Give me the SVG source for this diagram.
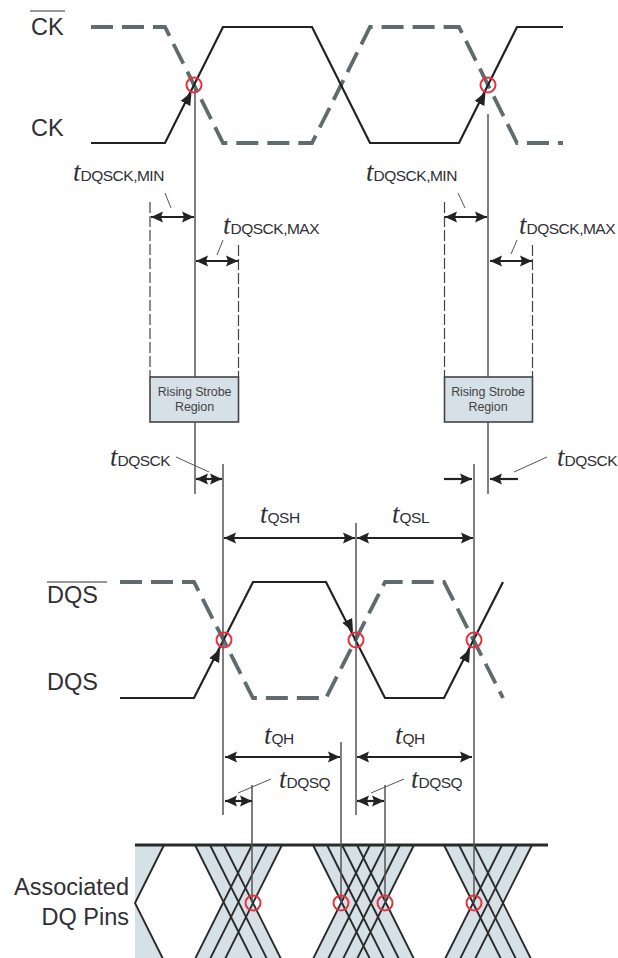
<svg xmlns="http://www.w3.org/2000/svg" width="618" height="958" viewBox="0 0 618 958">
<style>
text{font-family:"Liberation Sans",Arial,sans-serif;fill:#2f3036}
.sig{font-size:23.500px}
.t{font-family:"Liberation Serif","Times New Roman",serif;font-style:italic;font-size:27px}
.s{font-size:15.500px;letter-spacing:-.5px}
.box{fill:#d6e0e7;stroke:#444;stroke-width:1.600}
.boxt{font-size:12.500px;text-anchor:middle;fill:#444;letter-spacing:-.1px}
.solid{fill:none;stroke:#222;stroke-width:2.200}
.dash{fill:none;stroke:#5f6b6e;stroke-width:3.800;stroke-dasharray:22 9}
.v{stroke:#555;stroke-width:1.500;fill:none}
.vd{stroke:#444;stroke-width:1.200;stroke-dasharray:11 3;fill:none}
.leader{stroke:#555;stroke-width:1;fill:none}
.dim{stroke:#222;stroke-width:2.200;fill:none;marker-start:url(#ah);marker-end:url(#ah)}
.one{stroke:#222;stroke-width:2.200;fill:none;marker-end:url(#ah)}
.band{fill:#d6e0e7;stroke:none}
.w{stroke:#2a2a2a;stroke-width:1.900;fill:none}
.hit{fill:none;stroke:#e6323e;stroke-width:2}
.over{stroke:#333;stroke-width:1.200}
.rail{stroke:#2a2a2a;stroke-width:2.800}
</style>
<defs>
<marker id="ah" markerUnits="userSpaceOnUse" markerWidth="13" markerHeight="12" viewBox="0 0 13 12" refX="12" refY="6" orient="auto-start-reverse"><path d="M0 .5L12 6L0 11.500L2 6Z" fill="#222"/></marker>
<marker id="tr" markerUnits="userSpaceOnUse" markerWidth="14" markerHeight="12" viewBox="0 0 14 12" refX="13" refY="6" orient="auto"><path d="M0 .5L13 6L0 11.500Z" fill="#222"/></marker>
</defs>

<g id="dq-bands">
<path class="band" d="M135 845H164L135 903L164 958H135Z"/>
<path class="band" d="M195 845H282L253 903L282 958H195L224 903Z"/>
<path class="band" d="M313 845H414L385 903L414 958H313L342 903Z"/>
<path class="band" d="M444 845H532L503 903L532 958H444L473 903Z"/>
</g>

<g id="ck-traces">
<path class="dash" d="M91 27H165L223 143H312L370 27H459L517 143H563"/>
<path class="solid" d="M91 143H165L223 27H312L370 143H459L517 27H563"/>
</g>
<g id="dqs-traces">
<path class="dash" d="M120 582H194L253 698H326L385 582H444L503 698"/>
<path class="solid" d="M120 698H194L253 582H326L385 698H444L503 582"/>
</g>
<g id="dq-traces">
<path class="w" d="M164 845L135 903L164 961"/>
<path class="w" d="M195 845L253 961M210 845L268 961M224 845L282 961M252 845L194 961M267 845L209 961M282 845L224 961"/>
<path class="w" d="M313 845L371 961M327 845L385 961M342 845L400 961M357 845L415 961M370 845L312 961M385 845L327 961M400 845L342 961M414 845L356 961"/>
<path class="w" d="M444 845L502 961M459 845L517 961M474 845L532 961M502 845L444 961M517 845L459 961M532 845L474 961"/>
<line class="rail" x1="135" y1="845" x2="548" y2="845"/>
</g>

<g id="connectors">
<path class="v" d="M195 90V494M488 114V494M223 464V815M356 523V815M474 464V903M341 742V903M252 785V903M385 785V903"/>
<path class="vd" d="M150 202V377M238.500 245V377M444.500 202V377M532.500 245V377"/>
<path class="leader" d="M165 193L171 208M223 240L217 255M458 193L465 208M517 240L511 254M176 457L209 472M514 472L547 457M238 793L271 779M371 793L404 779"/>
<line class="dim" x1="151" y1="217" x2="194" y2="217"/>
<line class="dim" x1="196" y1="261" x2="238" y2="261"/>
<line class="dim" x1="445" y1="217" x2="487" y2="217"/>
<line class="dim" x1="490" y1="261" x2="532" y2="261"/>
<line class="dim" x1="196" y1="479" x2="222" y2="479"/>
<line class="one" x1="444" y1="479" x2="472" y2="479"/>
<line class="one" x1="518" y1="479" x2="490" y2="479"/>
<line class="dim" x1="224" y1="538" x2="355" y2="538"/>
<line class="dim" x1="357" y1="538" x2="473" y2="538"/>
<line class="dim" x1="225" y1="757" x2="340" y2="757"/>
<line class="dim" x1="357" y1="757" x2="472" y2="757"/>
<line class="dim" x1="225" y1="801" x2="252" y2="801"/>
<line class="dim" x1="357" y1="801" x2="384" y2="801"/>
<path d="M182 110L191.500 92" stroke="none" fill="none" marker-end="url(#tr)"/>
<path d="M476 110L485.500 92" stroke="none" fill="none" marker-end="url(#tr)"/>
<path d="M211 667L220 649" stroke="none" fill="none" marker-end="url(#tr)"/>
<path d="M344 614L353 632" stroke="none" fill="none" marker-end="url(#tr)"/>
<path d="M461 667L470 649" stroke="none" fill="none" marker-end="url(#tr)"/>
</g>

<g id="region-left"><rect class="box" x="150" y="377" width="88.500" height="45"/><text class="boxt" x="194.500" y="396">Rising Strobe</text><text class="boxt" x="194.500" y="411">Region</text></g>
<g id="region-right"><rect class="box" x="444.500" y="377" width="88" height="45"/><text class="boxt" x="488" y="396">Rising Strobe</text><text class="boxt" x="488" y="411">Region</text></g>

<g id="crossings">
<circle class="hit" cx="194" cy="85" r="7.500"/><circle class="hit" cx="488" cy="85" r="7.500"/>
<circle class="hit" cx="224" cy="640" r="7.500"/><circle class="hit" cx="356" cy="640" r="7.500"/><circle class="hit" cx="474" cy="640" r="7.500"/>
<circle class="hit" cx="253" cy="903" r="7.500"/><circle class="hit" cx="341" cy="903" r="7.500"/><circle class="hit" cx="385" cy="903" r="7.500"/><circle class="hit" cx="474" cy="903" r="7.500"/>
</g>

<g id="signal-labels">
<line class="over" x1="30" y1="11" x2="65" y2="11"/>
<text class="sig" x="31" y="35">CK</text>
<text class="sig" x="31" y="136">CK</text>
<line class="over" x1="47" y1="582" x2="107" y2="582"/>
<text class="sig" x="47" y="603">DQS</text>
<text class="sig" x="47" y="690">DQS</text>
<text class="sig" x="129" y="895" text-anchor="end">Associated</text>
<text class="sig" x="129" y="925" text-anchor="end">DQ Pins</text>
</g>

<g id="timing-labels">
<text x="73" y="181"><tspan class="t">t</tspan><tspan class="s">DQSCK,MIN</tspan></text>
<text x="366" y="181"><tspan class="t">t</tspan><tspan class="s">DQSCK,MIN</tspan></text>
<text x="223" y="234"><tspan class="t">t</tspan><tspan class="s">DQSCK,MAX</tspan></text>
<text x="519" y="234"><tspan class="t">t</tspan><tspan class="s">DQSCK,MAX</tspan></text>
<text x="110" y="466"><tspan class="t">t</tspan><tspan class="s">DQSCK</tspan></text>
<text x="557" y="466"><tspan class="t">t</tspan><tspan class="s">DQSCK</tspan></text>
<text x="260" y="523"><tspan class="t">t</tspan><tspan class="s">QSH</tspan></text>
<text x="392" y="523"><tspan class="t">t</tspan><tspan class="s">QSL</tspan></text>
<text x="264" y="744"><tspan class="t">t</tspan><tspan class="s">QH</tspan></text>
<text x="395" y="744"><tspan class="t">t</tspan><tspan class="s">QH</tspan></text>
<text x="279" y="788"><tspan class="t">t</tspan><tspan class="s">DQSQ</tspan></text>
<text x="411" y="788"><tspan class="t">t</tspan><tspan class="s">DQSQ</tspan></text>
</g>
</svg>
